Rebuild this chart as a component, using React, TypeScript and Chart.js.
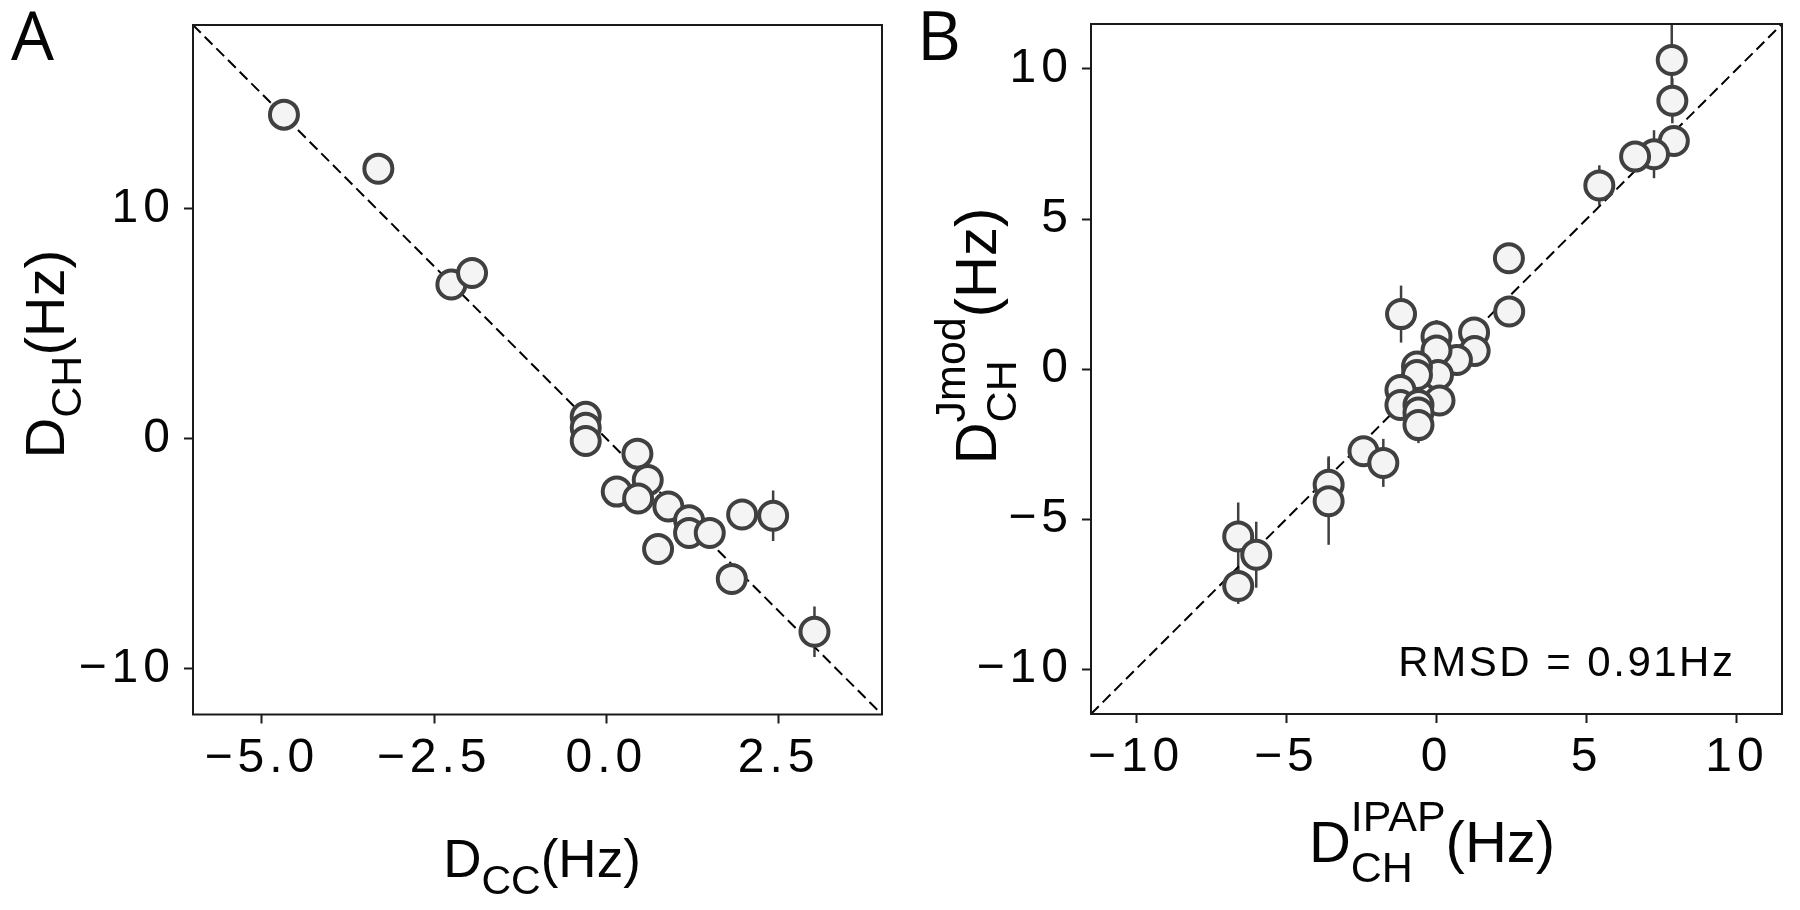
import React, { useEffect, useRef } from "react";
import { Chart, registerables } from "chart.js";
Chart.register(...registerables);

// ---------- Panel A data ----------
const aX = [-4.68, -3.31, -2.25, -1.95, -0.3, -0.3, -0.3, 0.45, 0.6, 0.15, 0.46, 0.9, 1.2, 1.2, 1.5, 0.75, 1.97, 2.42, 1.82, 3.02];
const aY = [14.1, 11.75, 6.71, 7.21, 0.95, 0.48, -0.1, -0.65, -1.8, -2.3, -2.6, -2.95, -3.55, -4.1, -4.1, -4.8, -3.3, -3.35, -6.1, -8.4];
const aErr = [0.3, 0.3, 0.3, 0.3, 0.2, 0.2, 0.2, 0.3, 0.3, 0.3, 0.3, 0.3, 0.3, 0.3, 0.3, 0.3, 0.4, 1.1, 0.4, 1.1];
const aLineX = [-6, 4];
const aLineY = [18, -12];
const aXTicks = [-5, -2.5, 0, 2.5];
const aXTickLabels = ["\u22125.0", "\u22122.5", "0.0", "2.5"];
const aYTicks = [10, 0, -10];
const aYTickLabels = ["10", "0", "\u221210"];

// ---------- Panel B data ----------
const bX = [7.83, 7.85, 7.9, 7.24, 6.61, 5.42, 2.41, 2.42, -1.18, 1.25, 1.27, 0.68, 0, 0, 0.05, -0.65, -0.65, 0.1, -1.2, -1.2, -0.6, -0.6, -0.6, -2.43, -1.77, -3.59, -3.59, -6.6, -6.0, -6.6];
const bY = [10.3, 8.94, 7.6, 7.16, 7.08, 6.12, 3.69, 1.92, 1.83, 1.22, 0.6, 0.3, 1.08, 0.62, -0.2, 0.08, -0.2, -1.05, -0.7, -1.2, -1.2, -1.45, -1.87, -2.74, -3.13, -3.86, -4.41, -5.58, -6.19, -7.23];
const bErr = [1.3, 0.75, 0.4, 0.8, 0.4, 0.67, 0.3, 0.3, 0.95, 0.3, 0.3, 0.3, 0.55, 0.3, 0.3, 0.3, 0.3, 0.3, 0.3, 0.3, 0.3, 0.3, 0.6, 0.3, 0.8, 0.95, 1.45, 1.13, 1.1, 0.6];
const bLineX = [-11.5, 11.5];
const bLineY = [-11.5, 11.5];
const bTicks = [-10, -5, 0, 5, 10];
const bTickLabels = ["\u221210", "\u22125", "0", "5", "10"];
const rmsdText = "RMSD = 0.91Hz";
const rmsdPos = [9.95, -9.85];

const FONT = '"Liberation Sans", Arial, sans-serif';
const EDGE = "#404040";
const FILL = "#f4f4f4";
const TICK_FONT = 48;
const TICK_SPACING = 5;

type Part = { t: string; size: number; dy: number };
type Item = Part | Part[];

function drawRich(ctx: any, items: Item[], cx: number, cy: number, rotate: boolean) {
  ctx.save();
  ctx.letterSpacing = "0px";
  ctx.translate(cx, cy);
  if (rotate) ctx.rotate(-Math.PI / 2);
  ctx.fillStyle = "#050505";
  ctx.textBaseline = "alphabetic";
  ctx.textAlign = "left";
  const widths = items.map((it) => {
    const arr = Array.isArray(it) ? it : [it];
    let m = 0;
    arr.forEach((p) => {
      ctx.font = `${p.size}px ${FONT}`;
      m = Math.max(m, ctx.measureText(p.t).width);
    });
    return m;
  });
  const total = widths.reduce((s, w) => s + w, 0);
  let x = -total / 2;
  items.forEach((it, i) => {
    const arr = Array.isArray(it) ? it : [it];
    arr.forEach((p) => {
      ctx.font = `${p.size}px ${FONT}`;
      ctx.fillText(p.t, x, p.dy);
    });
    x += widths[i];
  });
  ctx.restore();
}

function errorBarPlugin(errs: number[]) {
  return {
    id: "errbars",
    beforeDatasetsDraw(chart: any) {
      const { ctx, chartArea } = chart;
      const xs = chart.scales.x;
      const ys = chart.scales.y;
      const data = chart.data.datasets[0].data;
      ctx.save();
      ctx.beginPath();
      ctx.rect(chartArea.left, chartArea.top, chartArea.right - chartArea.left, chartArea.bottom - chartArea.top);
      ctx.clip();
      ctx.strokeStyle = EDGE;
      ctx.lineWidth = 2.5;
      data.forEach((p: any, i: number) => {
        const e = errs[i] || 0;
        const px = xs.getPixelForValue(p.x);
        const y1 = ys.getPixelForValue(p.y - e);
        const y2 = ys.getPixelForValue(p.y + e);
        ctx.beginPath();
        ctx.moveTo(px, y1);
        ctx.lineTo(px, y2);
        ctx.stroke();
      });
      ctx.restore();
    },
  };
}

const spacingPlugin = {
  id: "spacing",
  beforeDraw(chart: any) {
    chart.ctx.letterSpacing = `${TICK_SPACING}px`;
  },
  afterDraw(chart: any) {
    chart.ctx.letterSpacing = "0px";
  },
};

const framePlugin = {
  id: "frame",
  afterDatasetsDraw(chart: any) {
    const { ctx, chartArea } = chart;
    ctx.save();
    ctx.strokeStyle = "#1a1a1a";
    ctx.lineWidth = 2;
    ctx.strokeRect(chartArea.left, chartArea.top, chartArea.right - chartArea.left, chartArea.bottom - chartArea.top);
    ctx.restore();
  },
};

function textPlugin(t: any) {
  return {
    id: "texts",
    afterDraw(chart: any) {
      const { ctx } = chart;
      ctx.save();
      ctx.letterSpacing = "0px";
      ctx.fillStyle = "#050505";
      ctx.font = `68px "Open Sans", sans-serif`;
      ctx.textBaseline = "alphabetic";
      ctx.textAlign = "left";
      ctx.fillText(t.panel, t.panelX, t.panelY);
      ctx.restore();
      drawRich(ctx, t.xTitle, t.xTitleX, t.xTitleY, false);
      drawRich(ctx, t.yTitle, t.yTitleX, t.yTitleY, true);
      if (t.note) {
        const xs = chart.scales.x;
        const ys = chart.scales.y;
        ctx.save();
        ctx.letterSpacing = "2.5px";
        ctx.fillStyle = "#050505";
        ctx.font = `42px ${FONT}`;
        ctx.textAlign = "right";
        ctx.textBaseline = "middle";
        ctx.fillText(t.note, xs.getPixelForValue(t.noteX), ys.getPixelForValue(t.noteY));
        ctx.restore();
      }
    },
  };
}

function zeroPad(s: any) {
  s.paddingTop = 0;
  s.paddingBottom = 0;
  s.paddingLeft = 0;
  s.paddingRight = 0;
}

function makeConfig(p: any): any {
  const pts = p.xs.map((x: number, i: number) => ({ x, y: p.ys[i] }));
  const line = p.lx.map((x: number, i: number) => ({ x, y: p.ly[i] }));
  const grid = {
    display: true,
    drawOnChartArea: false,
    drawTicks: true,
    tickLength: 9,
    tickWidth: 2,
    tickColor: "#1a1a1a",
  };
  return {
    type: "scatter",
    data: {
      datasets: [
        {
          data: pts,
          pointRadius: 14,
          pointHoverRadius: 14,
          pointBorderWidth: 4,
          pointBackgroundColor: FILL,
          pointBorderColor: EDGE,
          order: 1,
        },
        {
          type: "line",
          data: line,
          showLine: true,
          borderColor: "#000",
          borderWidth: 2,
          borderDash: [11, 5.5],
          pointRadius: 0,
          fill: false,
          order: 2,
        },
      ],
    },
    options: {
      responsive: false,
      animation: false,
      devicePixelRatio: 1,
      events: [],
      layout: { padding: { left: 0, top: p.top, right: p.right, bottom: 0 } },
      plugins: {
        legend: { display: false },
        tooltip: { enabled: false },
      },
      scales: {
        x: {
          type: "linear",
          grid,
          border: { display: false },
          min: p.xmin,
          max: p.xmax,
          afterBuildTicks: (s: any) => {
            s.ticks = p.xTicks.map((v: number) => ({ value: v }));
          },
          afterFit: (s: any) => {
            s.height = p.xAxisH;
            zeroPad(s);
          },
          ticks: {
            autoSkip: false,
            maxRotation: 0,
            minRotation: 0,
            padding: 6,
            color: "#050505",
            font: { family: FONT, size: TICK_FONT },
            callback: (_v: any, i: number) => p.xLabels[i],
          },
        },
        y: {
          type: "linear",
          grid,
          border: { display: false },
          min: p.ymin,
          max: p.ymax,
          afterBuildTicks: (s: any) => {
            s.ticks = p.yTicks.map((v: number) => ({ value: v }));
          },
          afterFit: (s: any) => {
            s.width = p.yAxisW;
            zeroPad(s);
          },
          ticks: {
            autoSkip: false,
            padding: 9,
            color: "#050505",
            font: { family: FONT, size: TICK_FONT },
            callback: (_v: any, i: number) => p.yLabels[i],
          },
        },
      },
    },
    plugins: [spacingPlugin, errorBarPlugin(p.err), framePlugin, textPlugin(p.texts)],
  };
}

function Panel(props: { cfg: any; left: number }) {
  const ref = useRef<HTMLCanvasElement | null>(null);
  useEffect(() => {
    if (!ref.current) return;
    const chart = new Chart(ref.current, props.cfg);
    return () => chart.destroy();
  }, []);
  return (
    <canvas
      ref={ref}
      width={900}
      height={910}
      style={{ position: "absolute", left: props.left, top: 0, width: 900, height: 910 }}
    />
  );
}

const cfgA = makeConfig({
  xs: aX,
  ys: aY,
  err: aErr,
  lx: aLineX,
  ly: aLineY,
  xmin: -6,
  xmax: 4,
  ymin: -12,
  ymax: 18,
  xTicks: aXTicks,
  xLabels: aXTickLabels,
  yTicks: aYTicks,
  yLabels: aYTickLabels,
  top: 25,
  right: 9,
  yAxisW: 193,
  xAxisH: 195.5,
  texts: {
    panel: "A",
    panelX: 11,
    panelY: 60,
    xTitle: [
      { t: "D", size: 53, dy: 0 },
      { t: "CC", size: 41, dy: 17 },
      { t: "(Hz)", size: 53, dy: 0 },
    ],
    xTitleX: 542,
    xTitleY: 877,
    yTitle: [
      { t: "D", size: 56, dy: 0 },
      { t: "CH", size: 43, dy: 17 },
      { t: "(Hz)", size: 56, dy: 0 },
    ],
    yTitleX: 64,
    yTitleY: 354,
  },
});

const cfgB = makeConfig({
  xs: bX,
  ys: bY,
  err: bErr,
  lx: bLineX,
  ly: bLineY,
  xmin: -11.5,
  xmax: 11.5,
  ymin: -11.5,
  ymax: 11.5,
  xTicks: bTicks,
  xLabels: bTickLabels,
  yTicks: bTicks,
  yLabels: bTickLabels,
  top: 24,
  right: 15,
  yAxisW: 191,
  xAxisH: 196,
  texts: {
    panel: "B",
    panelX: 17,
    panelY: 60,
    xTitle: [
      { t: "D", size: 58, dy: 0 },
      [
        { t: "IPAP", size: 43, dy: -31 },
        { t: "CH", size: 43, dy: 20 },
      ],
      { t: "(Hz)", size: 58, dy: 0 },
    ],
    xTitleX: 532,
    xTitleY: 862,
    yTitle: [
      { t: "D", size: 58, dy: 0 },
      [
        { t: "Jmod", size: 43, dy: -31 },
        { t: "CH", size: 43, dy: 20 },
      ],
      { t: "(Hz)", size: 58, dy: 0 },
    ],
    yTitleX: 96,
    yTitleY: 336,
    note: rmsdText,
    noteX: rmsdPos[0],
    noteY: rmsdPos[1],
  },
});

export default function App() {
  return (
    <div style={{ position: "fixed", left: 0, top: 0, width: 1800, height: 910, background: "#fff", overflow: "hidden" }}>
      <Panel cfg={cfgA} left={0} />
      <Panel cfg={cfgB} left={900} />
    </div>
  );
}
